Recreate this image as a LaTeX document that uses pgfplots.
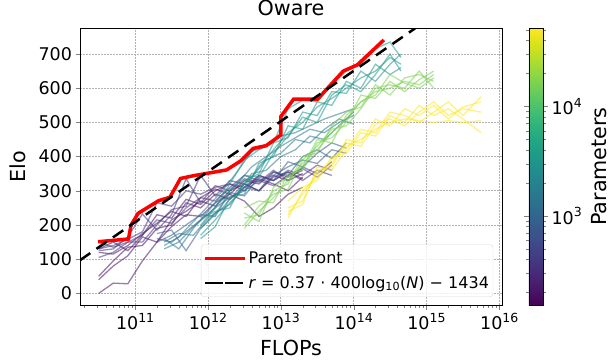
\documentclass[border=0pt]{standalone}
\usepackage{fontspec}
\setmainfont{DejaVu Sans}
\usepackage{pgfplots}
\pgfplotsset{compat=1.18}
\usepackage{pgfplotstable}

\definecolor{cA}{HTML}{471164}
\definecolor{cB}{HTML}{46337E}
\definecolor{cC}{HTML}{365C8D}
\definecolor{cD}{HTML}{2A788E}
\definecolor{cE}{HTML}{1F988B}
\definecolor{cF}{HTML}{7AD151}
\definecolor{cG}{HTML}{FDE725}

\newcommand{\dec}[1]{10\raisebox{7.5pt}{\fontsize{12.5}{14}\selectfont #1}}

\pgfplotstableread{
x y1 y2 y3 y4 y5
3.162e10 0 40 50 120 130
5.012e10 30 80 95 115 150
7.943e10 28 110 135 140 125
1.259e11 95 165 140 175 170
1.995e11 150 150 190 205 230
3.162e11 195 215 200 240 220
5.012e11 230 240 265 225 275
7.943e11 225 270 250 280 260
1.259e12 265 255 290 305 300
1.995e12 290 300 275 290 320
3.162e12 270 320 310 330 300
5.012e12 225 300 335 320 345
7.943e12 250 345 320 355 330
1.259e13 290 330 300 340 355
1.995e13 310 350 340 360 335
}\tabA

\pgfplotstableread{
x y1 y2 y3 y4
3.162e10 130 125 150 105
5.012e10 140 130 135 120
7.943e10 158 165 150 150
1.259e11 180 232 150 170
1.995e11 265 185 200 215
3.162e11 255 230 245 205
5.012e11 300 335 255 250
7.943e11 290 265 345 280
1.259e12 310 315 285 270
1.995e12 320 300 330 310
3.162e12 310 335 320 345
5.012e12 345 325 300 330
7.943e12 330 360 340 315
1.259e13 360 330 355 345
1.995e13 345 370 330 365
3.162e13 375 350 360 340
5.012e13 360 385 345 375
}\tabB

\pgfplotstableread{
x y1 y2 y3
1.995e11 160 175 150
3.162e11 150 185 170
5.012e11 180 125 200
7.943e11 215 190 230
1.259e12 250 235 225
1.995e12 280 260 295
3.162e12 300 310 285
5.012e12 330 300 340
7.943e12 345 355 330
1.259e13 370 345 385
1.995e13 390 400 370
3.162e13 380 420 410
5.012e13 420 395 440
7.943e13 410 440 425
}\tabC

\pgfplotstableread{
x y1 y2 y3 y4
2.512e11 140 160 150 130
3.981e11 165 130 175 150
6.310e11 210 190 170 195
1.000e12 255 240 220 230
1.585e12 300 290 250 275
2.512e12 355 320 300 290
3.981e12 415 370 340 350
6.310e12 430 400 390 360
1.000e13 460 430 410 400
1.585e13 470 455 450 420
2.512e13 490 480 440 460
3.981e13 510 470 480 450
6.310e13 525 500 510 490
1.000e14 540 520 495 530
}\tabD

\pgfplotstableread{
x y1 y2 y3 y4 y5
7.943e11 200 170 220 160 190
1.259e12 250 215 240 195 230
1.995e12 320 265 250 280 300
3.162e12 390 310 330 290 345
5.012e12 420 370 350 380 340
7.943e12 440 420 440 400 410
1.259e13 540 470 455 490 460
1.995e13 565 500 530 480 515
3.162e13 560 545 520 560 500
5.012e13 610 570 590 550 580
7.943e13 650 600 585 620 610
1.259e14 670 630 650 600 590
1.995e14 715 650 620 670 640
3.162e14 735 690 670 640 700
4.467e14 690 670 700 660 650
}\tabE

\pgfplotstableread{
x y1 y2 y3 y4 y5
3.162e12 190 220 250 200 235
5.012e12 240 230 270 255 210
7.943e12 280 300 265 290 310
1.259e13 330 320 350 305 340
1.995e13 380 400 360 390 370
3.162e13 420 410 440 430 450
5.012e13 470 490 455 480 440
7.943e13 510 530 500 490 520
1.259e14 560 545 580 540 560
1.995e14 590 610 570 600 580
3.162e14 600 580 620 610 640
5.012e14 620 630 590 600 615
7.943e14 610 640 625 650 600
1.259e15 640 620 650 600 630
}\tabF

\pgfplotstableread{
x y1 y2 y3 y4 y5
1.259e13 230 250 270 220 240
1.995e13 290 270 310 300 260
3.162e13 350 360 330 340 370
5.012e13 390 370 400 380 360
7.943e13 430 450 410 440 420
1.259e14 450 440 470 430 480
1.995e14 480 510 460 495 470
3.162e14 500 490 520 510 530
5.012e14 510 540 500 490 520
7.943e14 505 520 550 530 500
1.259e15 500 550 520 560 530
1.995e15 505 510 540 520 560
3.162e15 500 545 510 540 520
5.623e15 505 560 470 530 575
}\tabG

\pgfplotsset{grp/.style={line width=1.3pt, opacity=0.55, forget plot}}

\begin{document}
\begin{tikzpicture}
\useasboundingbox (-80pt,-55pt) rectangle (532pt,305pt);
\begin{axis}[
  at={(0pt,0pt)}, anchor=south west,
  scale only axis, width=422pt, height=277pt,
  xmode=log, xmin=1.752e10, xmax=1.09e16,
  ymin=-34, ymax=776,
  xtick={1e11,1e12,1e13,1e14,1e15,1e16},
  xticklabels={\dec{11},\dec{12},\dec{13},\dec{14},\dec{15},\dec{16}},
  minor xtick={2e10,3e10,4e10,5e10,6e10,7e10,8e10,9e10,
    2e11,3e11,4e11,5e11,6e11,7e11,8e11,9e11,
    2e12,3e12,4e12,5e12,6e12,7e12,8e12,9e12,
    2e13,3e13,4e13,5e13,6e13,7e13,8e13,9e13,
    2e14,3e14,4e14,5e14,6e14,7e14,8e14,9e14,
    2e15,3e15,4e15,5e15,6e15,7e15,8e15,9e15},
  ytick={0,100,200,300,400,500,600,700},
  /pgf/number format/assume math mode=true,
  tick label style={font=\fontsize{17.5}{21}\selectfont},
  tick align=outside, tick pos=left,
  major tick length=4.5pt, minor tick length=2.5pt,
  axis line style={line width=0.8pt},
  grid=major,
  major grid style={line width=0.6pt, draw=gray!60, dash pattern=on 1.8pt off 1.2pt},
  title=Oware,
  title style={font=\fontsize{20.7}{24}\selectfont, at={(axis description cs:0.5,1)}, anchor=center, yshift=14pt},
  xlabel=FLOPs,
  xlabel style={font=\fontsize{20.7}{24}\selectfont, at={(axis description cs:0.5,0)}, anchor=center, yshift=-42.5pt},
  ylabel=Elo,
  ylabel style={font=\fontsize{20.7}{24}\selectfont, at={(axis description cs:0,0.5)}, anchor=center, yshift=62pt},
  legend style={at={(0.979,0.029)}, anchor=south east, draw=black!15, rounded corners=3pt,
    fill=white, fill opacity=0.8, text opacity=1, font=\fontsize{16}{19}\selectfont,
    row sep=7pt, inner xsep=2pt, inner ysep=5pt},
  legend cell align=left,
  legend image code/.code={\path (-10pt,0pt) -- (30pt,0pt); \draw[#1] (-4pt,0pt) -- (30pt,0pt);},
  colorbar, colormap/viridis,
  point meta min=2.185, point meta max=4.716,
  colorbar style={
    at={(parent axis.north east)}, anchor=north west, xshift=18.4pt,
    scale only axis, width=14.6pt, height=277pt,
    ytick={3,4}, yticklabels={\dec{3},\dec{4}},
    minor ytick={2.301,2.477,2.602,2.699,2.778,2.845,2.903,2.954,
      3.301,3.477,3.602,3.699,3.778,3.845,3.903,3.954,
      4.301,4.477,4.602,4.699},
    yticklabel pos=right, tick align=outside,
    major tick length=4.5pt, minor tick length=2.5pt,
    tick label style={font=\fontsize{17.5}{21}\selectfont},
    axis line style={line width=0.8pt},
    ylabel=Parameters,
    ylabel style={font=\fontsize{20.7}{24}\selectfont, at={(axis description cs:1,0.5)}, anchor=center, yshift=-55.5pt},
  },
]
\addplot[grp, cA] table[x=x,y=y1]{\tabA};
\addplot[grp, cA] table[x=x,y=y2]{\tabA};
\addplot[grp, cA] table[x=x,y=y3]{\tabA};
\addplot[grp, cA] table[x=x,y=y4]{\tabA};
\addplot[grp, cA] table[x=x,y=y5]{\tabA};
\addplot[grp, cB] table[x=x,y=y1]{\tabB};
\addplot[grp, cB] table[x=x,y=y2]{\tabB};
\addplot[grp, cB] table[x=x,y=y3]{\tabB};
\addplot[grp, cB] table[x=x,y=y4]{\tabB};
\addplot[grp, cC] table[x=x,y=y1]{\tabC};
\addplot[grp, cC] table[x=x,y=y2]{\tabC};
\addplot[grp, cC] table[x=x,y=y3]{\tabC};
\addplot[grp, cD] table[x=x,y=y1]{\tabD};
\addplot[grp, cD] table[x=x,y=y2]{\tabD};
\addplot[grp, cD] table[x=x,y=y3]{\tabD};
\addplot[grp, cD] table[x=x,y=y4]{\tabD};
\addplot[grp, cE] table[x=x,y=y1]{\tabE};
\addplot[grp, cE] table[x=x,y=y2]{\tabE};
\addplot[grp, cE] table[x=x,y=y3]{\tabE};
\addplot[grp, cE] table[x=x,y=y4]{\tabE};
\addplot[grp, cE] table[x=x,y=y5]{\tabE};
\addplot[grp, cF] table[x=x,y=y1]{\tabF};
\addplot[grp, cF] table[x=x,y=y2]{\tabF};
\addplot[grp, cF] table[x=x,y=y3]{\tabF};
\addplot[grp, cF] table[x=x,y=y4]{\tabF};
\addplot[grp, cF] table[x=x,y=y5]{\tabF};
\addplot[grp, cG] table[x=x,y=y1]{\tabG};
\addplot[grp, cG] table[x=x,y=y2]{\tabG};
\addplot[grp, cG] table[x=x,y=y3]{\tabG};
\addplot[grp, cG] table[x=x,y=y4]{\tabG};
\addplot[grp, cG] table[x=x,y=y5]{\tabG};

\addplot[red, line width=3.5pt] coordinates {
 (3.1e10,151) (8.1e10,159) (8.8e10,200) (1.1e11,234) (2.1e11,271) (3e11,281)
 (4.2e11,336) (6.3e11,344) (1.8e12,361) (2.8e12,387) (4.2e12,424) (6.3e12,432)
 (1e13,463) (1e13,517) (1.5e13,568) (3.2e13,568) (7.2e13,650) (1.12e14,668) (2.6e14,741)};
\addlegendentry{Pareto front}
\addplot[black, line width=2.5pt, dash pattern=on 12.5pt off 7.5pt] coordinates {(1.752e10,97) (1.09e16,951)};
\addlegendentry{\textit{r} = 0.37 · 400log\textsubscript{10}(\textit{N}) − 1434}
\end{axis}
\end{tikzpicture}
\end{document}
